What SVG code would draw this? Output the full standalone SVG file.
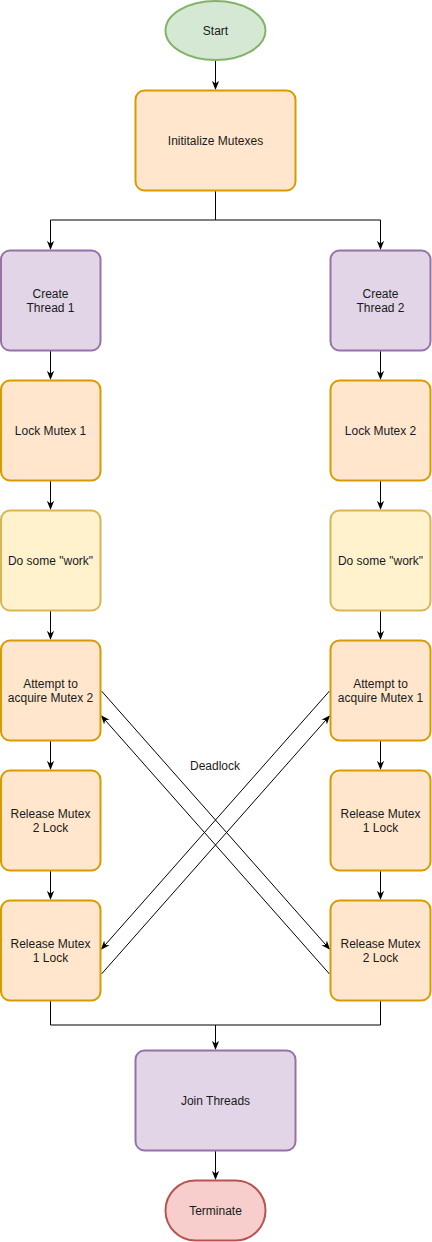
<svg xmlns="http://www.w3.org/2000/svg" width="432" height="1242" viewBox="0 0 432 1242">
<style>
text{font-family:"Liberation Sans",Arial,sans-serif;font-size:12px;fill:#1a1a1a;text-anchor:middle}
.n{stroke-width:2}
.or{fill:#ffe6cc;stroke:#d79b00}
.pu{fill:#e1d5e7;stroke:#9673a6}
.ye{fill:#fff2cc;stroke:#d6b656}
.gr{fill:#d5e8d4;stroke:#82b366}
.rd{fill:#f8cecc;stroke:#b85450}
.e{fill:none;stroke:#000;stroke-width:1}
.a{marker-end:url(#arr)}
</style>
<defs>
<marker id="arr" viewBox="0 0 10 10" refX="9" refY="5" markerWidth="9" markerHeight="9" markerUnits="userSpaceOnUse" orient="auto">
<path d="M0,1 L10,5 L0,9 L3,5 Z" fill="#000"/>
</marker>
</defs>
<rect width="432" height="1242" fill="#fff"/>
<g id="connectors">
<path class="e a" d="M215.5,61 V89"/>
<path class="e" d="M215.5,191 V220 H50.5 M215.5,220 H380.5"/>
<path class="e a" d="M50.5,220 V249"/>
<path class="e a" d="M380.5,220 V249"/>
<path class="e a" d="M50.5,351 V379"/>
<path class="e a" d="M380.5,351 V379"/>
<path class="e a" d="M50.5,481 V509"/>
<path class="e a" d="M380.5,481 V509"/>
<path class="e a" d="M50.5,611 V639"/>
<path class="e a" d="M380.5,611 V639"/>
<path class="e a" d="M50.5,741 V769"/>
<path class="e a" d="M380.5,741 V769"/>
<path class="e a" d="M50.5,871 V899"/>
<path class="e a" d="M380.5,871 V899"/>
<path class="e" d="M50.5,1001 V1025 H380.5 V1001"/>
<path class="e a" d="M215.5,1025 V1049"/>
<path class="e a" d="M215.5,1151 V1179"/>
<path class="e a" d="M101.5,691 L329.5,949"/>
<path class="e a" d="M329.5,974 L101.5,716"/>
<path class="e a" d="M329.5,691 L101.5,949"/>
<path class="e a" d="M101.5,974 L329.5,716"/>
<text x="215" y="770">Deadlock</text>
</g>
<g id="start"><ellipse class="n gr" cx="215.5" cy="30.5" rx="50" ry="29.5"/><text x="215.5" y="35">Start</text></g>
<g id="init"><rect class="n or" x="135.5" y="90.5" width="160" height="100" rx="9"/><text x="215.5" y="145">Inititalize Mutexes</text></g>
<g id="create1"><rect class="n pu" x="1" y="250.5" width="99.5" height="100" rx="9"/><text x="50.5" y="297.5">Create</text><text x="50.5" y="312">Thread 1</text></g>
<g id="create2"><rect class="n pu" x="330.5" y="250.5" width="100" height="100" rx="9"/><text x="380.5" y="297.5">Create</text><text x="380.5" y="312">Thread 2</text></g>
<g id="lock1"><rect class="n or" x="1" y="380.5" width="99.5" height="100" rx="9"/><text x="50.5" y="435">Lock Mutex 1</text></g>
<g id="lock2"><rect class="n or" x="330.5" y="380.5" width="100" height="100" rx="9"/><text x="380.5" y="435">Lock Mutex 2</text></g>
<g id="work1"><rect class="n ye" x="1" y="510.5" width="99.5" height="100" rx="9"/><text x="50.5" y="565">Do some "work"</text></g>
<g id="work2"><rect class="n ye" x="330.5" y="510.5" width="100" height="100" rx="9"/><text x="380.5" y="565">Do some "work"</text></g>
<g id="attempt1"><rect class="n or" x="1" y="640.5" width="99.5" height="100" rx="9"/><text x="50.5" y="687.5">Attempt to</text><text x="50.5" y="702">acquire Mutex 2</text></g>
<g id="attempt2"><rect class="n or" x="330.5" y="640.5" width="100" height="100" rx="9"/><text x="380.5" y="687.5">Attempt to</text><text x="380.5" y="702">acquire Mutex 1</text></g>
<g id="rel1a"><rect class="n or" x="1" y="770.5" width="99.5" height="100" rx="9"/><text x="50.5" y="817.5">Release Mutex</text><text x="50.5" y="832">2 Lock</text></g>
<g id="rel2a"><rect class="n or" x="330.5" y="770.5" width="100" height="100" rx="9"/><text x="380.5" y="817.5">Release Mutex</text><text x="380.5" y="832">1 Lock</text></g>
<g id="rel1b"><rect class="n or" x="1" y="900.5" width="99.5" height="100" rx="9"/><text x="50.5" y="947.5">Release Mutex</text><text x="50.5" y="962">1 Lock</text></g>
<g id="rel2b"><rect class="n or" x="330.5" y="900.5" width="100" height="100" rx="9"/><text x="380.5" y="947.5">Release Mutex</text><text x="380.5" y="962">2 Lock</text></g>
<g id="join"><rect class="n pu" x="135.5" y="1050.5" width="160" height="100" rx="9"/><text x="215.5" y="1105">Join Threads</text></g>
<g id="terminate"><rect class="n rd" x="165.5" y="1180.5" width="100" height="60" rx="30"/><text x="215.5" y="1215">Terminate</text></g>
</svg>
